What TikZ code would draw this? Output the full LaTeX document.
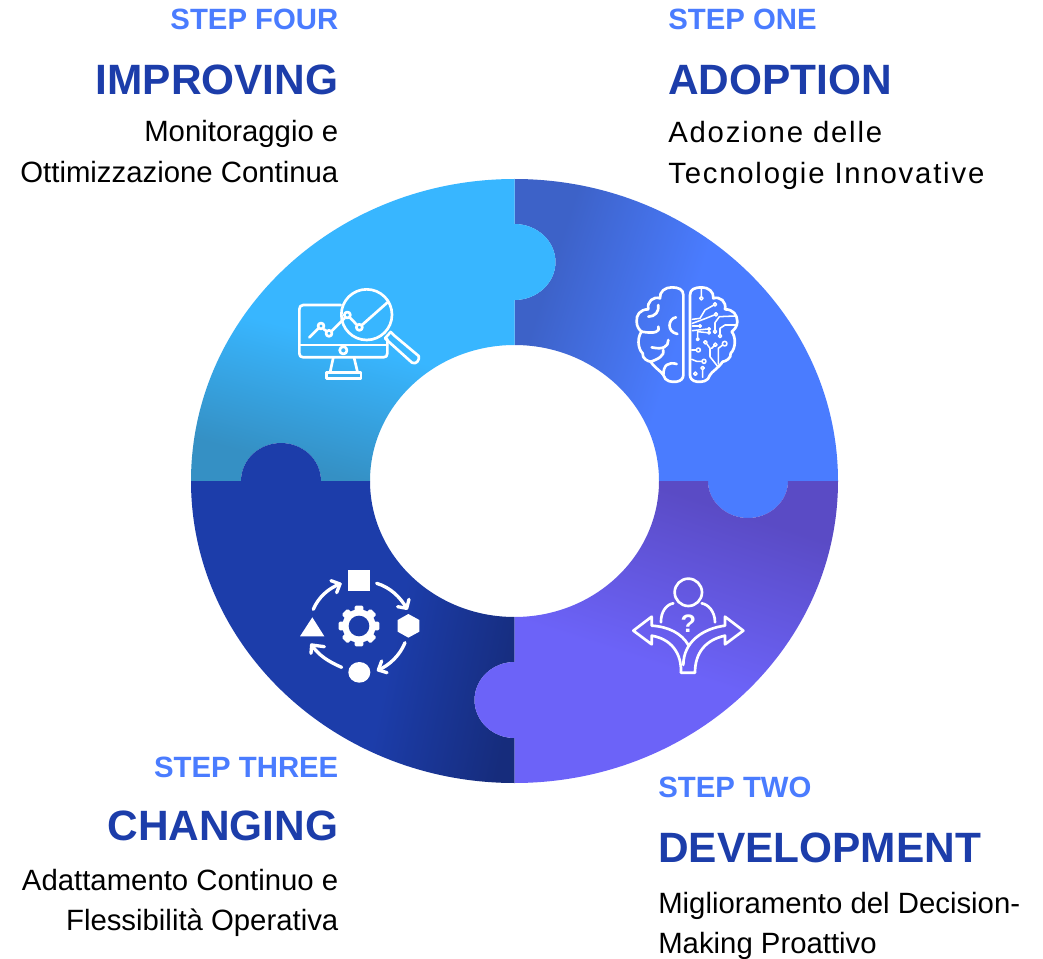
\documentclass[tikz,border=0pt]{standalone}
\usepackage{fontspec}
\setmainfont{Liberation Sans}
\newfontfamily\spaced[LetterSpace=6.1]{Liberation Sans}
\usetikzlibrary{arrows.meta}
\definecolor{stepc}{HTML}{4A7CFF}
\definecolor{titlec}{HTML}{1C3DAA}
\definecolor{trA}{HTML}{3D62C8}
\definecolor{trB}{HTML}{4A7CFF}
\definecolor{tlA}{HTML}{3590C4}
\definecolor{tlB}{HTML}{38B6FF}
\definecolor{blA}{HTML}{1C3DAA}
\definecolor{blB}{HTML}{162C7C}
\definecolor{brA}{HTML}{5A4BC5}
\definecolor{brB}{HTML}{6C63F8}
\pgfdeclarehorizontalshading{trgrad}{100bp}{color(0bp)=(trA);color(28bp)=(trA);color(50bp)=(trB);color(100bp)=(trB)}
\pgfdeclareverticalshading{tlgrad}{100bp}{color(0bp)=(tlA);color(26bp)=(tlA);color(47bp)=(tlB);color(100bp)=(tlB)}
\pgfdeclarehorizontalshading{blgrad}{100bp}{color(0bp)=(blA);color(57bp)=(blA);color(77bp)=(blB);color(100bp)=(blB)}
\pgfdeclareverticalshading{brgrad}{100bp}{color(0bp)=(brB);color(45bp)=(brB);color(72bp)=(brA);color(100bp)=(brA)}
\tikzset{
  stepl/.style={font=\fontsize{22}{22}\selectfont\bfseries,text=stepc,inner sep=0pt},
  titlel/.style={font=\fontsize{31.8}{32}\selectfont\bfseries,text=titlec,inner sep=0pt},
  bodyl/.style={font=\fontsize{22}{22}\selectfont,text=black,inner sep=0pt},
  bodys/.style={font=\fontsize{22}{22}\spaced,text=black,inner sep=0pt},
  ico/.style={draw=white,line width=2pt,line cap=round,line join=round},
  icothin/.style={draw=white,line width=1.15pt,line cap=round,line join=round},
  icobold/.style={draw=white,line width=2.5pt,line cap=round,line join=round},
  solidico/.style={fill=white,draw=none},
}
\begin{document}
\begin{tikzpicture}[x=.75pt,y=.75pt]
\useasboundingbox (0,0) rectangle (1043,-959);
\fill[white] (0,0) rectangle (1043,-959);
% ring
\shade[shading=trgrad,shading angle=-18] (514.5,-179) arc[start angle=90,end angle=0,x radius=323.5,y radius=302]
 -- (788,-481) arc[start angle=0,end angle=-180,x radius=40,y radius=37]
 -- (659,-481) arc[start angle=0,end angle=90,x radius=144.5,y radius=136]
 -- (514.5,-300) arc[start angle=-90,end angle=90,x radius=41,y radius=38] -- cycle;
\shade[shading=tlgrad,shading angle=-15] (514.5,-179) -- (514.5,-224) arc[start angle=90,end angle=-90,x radius=41,y radius=38]
 -- (514.5,-345) arc[start angle=90,end angle=180,x radius=144.5,y radius=136]
 -- (321,-481) arc[start angle=0,end angle=180,x radius=40,y radius=38]
 -- (191,-481) arc[start angle=180,end angle=90,x radius=323.5,y radius=302] -- cycle;
\shade[shading=blgrad,shading angle=-12] (191,-481) -- (241,-481) arc[start angle=180,end angle=0,x radius=40,y radius=38]
 -- (370,-481) arc[start angle=180,end angle=270,x radius=144.5,y radius=136]
 -- (514.5,-662) arc[start angle=90,end angle=270,x radius=40,y radius=38]
 -- (514.5,-783) arc[start angle=270,end angle=180,x radius=323.5,y radius=302] -- cycle;
\shade[shading=brgrad,shading angle=-18] (514.5,-783) -- (514.5,-738) arc[start angle=270,end angle=90,x radius=40,y radius=38]
 -- (514.5,-617) arc[start angle=270,end angle=360,x radius=144.5,y radius=136]
 -- (708,-481) arc[start angle=180,end angle=360,x radius=40,y radius=37]
 -- (838,-481) arc[start angle=0,end angle=-90,x radius=323.5,y radius=302] -- cycle;
% texts
\node[stepl,anchor=base east] (s4) at (338.6,-30) {STEP FOUR};
\node[titlel,anchor=base east] (t4) at (338.6,-95) {IMPROVING};
\node[bodyl,anchor=base east] (b4a) at (338.6,-142) {Monitoraggio e};
\node[bodyl,anchor=base east] (b4b) at (338.6,-183) {Ottimizzazione Continua};
\node[stepl,anchor=base west] (s1) at (668,-30) {STEP ONE};
\node[titlel,anchor=base west] (t1) at (668,-95) {ADOPTION};
\node[bodys,anchor=base west] (b1a) at (668,-143) {Adozione delle};
\node[bodys,anchor=base west] (b1b) at (668,-184) {Tecnologie Innovative};
\node[stepl,anchor=base east] (s3) at (338.6,-777) {STEP THREE};
\node[titlel,anchor=base east] (t3) at (338.6,-840) {CHANGING};
\node[bodyl,anchor=base east] (b3a) at (338.6,-890) {Adattamento Continuo e};
\node[bodyl,anchor=base east] (b3b) at (338.6,-930) {Flessibilità Operativa};
\node[stepl,anchor=base west] (s2) at (658,-797) {STEP TWO};
\node[titlel,anchor=base west] (t2) at (658,-862) {DEVELOPMENT};
\node[bodyl,anchor=base west] (b2a) at (658,-913) {Miglioramento del Decision-};
\node[bodyl,anchor=base west] (b2b) at (658,-953) {Making Proattivo};
% brain icon (zoom-crop units)
\begin{scope}[shift={(450pt,-195pt)},x=.25pt,y=-.25pt]
\draw[ico] (250,345) -- (250,105) .. controls (250,88) and (235,82) .. (215,82) .. controls (195,82) and (178,95) .. (180,115)
 .. controls (160,108) and (140,125) .. (145,148) .. controls (120,148) and (108,165) .. (110,185) .. controls (110,200) and (118,210) .. (125,215)
 .. controls (112,230) and (112,265) .. (128,280) .. controls (125,295) and (145,305) .. (152,305) .. controls (165,325) and (185,335) .. (190,345)
 .. controls (195,365) and (215,367) .. (230,365) .. controls (243,363) and (250,355) .. (250,345);
\draw[ico] (175,135) .. controls (178,155) and (165,170) .. (145,170);
\draw[ico] (175,200) .. controls (182,215) and (165,222) .. (125,215);
\draw[ico] (228,172) .. controls (205,175) and (198,215) .. (232,222);
\draw[ico] (205,240) .. controls (205,260) and (190,270) .. (155,262);
\draw[ico] (190,270) .. controls (195,285) and (175,298) .. (152,305);
\draw[ico] (230,312) .. controls (205,305) and (190,315) .. (190,345);
\draw[ico] (270,345) -- (270,105) .. controls (270,88) and (285,82) .. (305,82) .. controls (325,82) and (342,95) .. (340,115)
 .. controls (360,108) and (380,125) .. (375,148) .. controls (400,148) and (412,165) .. (412,185) .. controls (412,200) and (402,210) .. (395,215)
 .. controls (408,230) and (408,265) .. (392,280) .. controls (395,295) and (375,305) .. (368,305) .. controls (355,325) and (335,335) .. (330,345)
 .. controls (325,365) and (305,367) .. (290,365) .. controls (277,363) and (270,355) .. (270,345);
\draw[icothin] (304,85) -- (304,110) (304,115) circle[radius=5];
\draw[icothin] (345,133) circle[radius=5] (340,136) -- (315,150) -- (300,175) -- (277,178);
\draw[icothin] (348,163) circle[radius=5] (343,165) -- (310,178) -- (277,190);
\draw[icothin] (300,198) circle[radius=4] (296,198) -- (277,198);
\draw[icothin] (345,215) circle[radius=5] (345,210) -- (345,188) -- (358,170) -- (405,168);
\draw[icothin] (360,228) circle[radius=5] (360,223) -- (360,205) -- (375,195) -- (410,195);
\draw[icothin] (327,207) circle[radius=4] (323,207) -- (277,212);
\draw[icothin] (327,218) circle[radius=4] (323,218) -- (293,215);
\draw[icothin] (293,238) circle[radius=4] (293,234) -- (293,215);
\draw[icothin] (316,247) circle[radius=5] (320,251) -- (330,265) -- (330,290) -- (352,318);
\draw[icothin] (346,254) circle[radius=5] (342,258) -- (335,265);
\draw[icothin] (374,251) circle[radius=7] (368,255) -- (355,265) -- (355,312);
\draw[icothin] (295,270) circle[radius=6] (289,270) -- (275,270);
\draw[icothin] (312,304) circle[radius=6] (306,304) -- (290,304) -- (275,298);
\draw[icothin] (308,324) circle[radius=5] (308,329) -- (308,352);
\draw[icothin] (286,341) circle[radius=5];
\end{scope}
% monitor icon
\begin{scope}[shift={(210pt,-202.5pt)},x=.25pt,y=-.25pt]
\draw[ico] (182,105) -- (70,105) .. controls (62,105) and (58,110) .. (58,118) -- (58,250) .. controls (58,258) and (62,262) .. (70,262) -- (310,262) .. controls (318,262) and (322,258) .. (322,250) -- (322,207);
\draw[ico] (58,225) -- (322,225);
\draw[ico] (190,241) circle[radius=11];
\draw[ico] (160,262) -- (150,308) (222,262) -- (233,308);
\draw[ico] (140,308) rectangle (243,325);
\draw[ico] (260,134) circle[radius=76];
\draw[ico] (88,202) -- (114,176) (132,178) -- (139,183) (155,183) -- (194,144) (210,143) -- (231,165) (246,165) -- (325,95);
\draw[ico] (123,168) circle[radius=9] (147,190) circle[radius=9] (202,135) circle[radius=9] (238,172) circle[radius=9];
\draw[ico] (315,205) -- (332,186) -- (342,196) -- (416,258) .. controls (420,270) and (408,285) .. (396,278) -- (315,205);
\end{scope}
% change icon
\begin{scope}[shift={(213.75pt,-420pt)},x=.25pt,y=-.25pt]
\fill[solidico] (190,30) rectangle (256,92);
\fill[solidico] (370,162) -- (403,180) -- (403,215) -- (370,233) -- (338,215) -- (338,180) -- cycle;
\fill[solidico] (223,337) ellipse[x radius=33,y radius=31];
\fill[solidico] (45,229) -- (118,229) -- (82,172) -- cycle;
\draw[icobold] (85,148) .. controls (100,112) and (130,85) .. (165,72);
\draw[icobold] (138,62) -- (165,72) -- (155,98);
\draw[icobold] (275,70) .. controls (315,82) and (345,110) .. (365,145);
\draw[icobold] (338,140) -- (365,145) -- (372,118);
\draw[icobold] (360,248) .. controls (345,285) and (315,315) .. (280,330);
\draw[icobold] (306,338) -- (280,330) -- (290,303);
\draw[icobold] (170,322) .. controls (130,305) and (100,285) .. (80,255);
\draw[icobold] (118,260) -- (80,255) -- (78,280);
\foreach \a in {0,45,...,315} {
  \fill[white,rounded corners=1pt,rotate around={\a:(222,198)}] (209,137) rectangle (235,170);
}
\fill[white] (222,198) circle[radius=50];
\fill[blA] (222,198) circle[radius=31];
\end{scope}
% decision icon
\begin{scope}[shift={(465pt,-423.75pt)},x=.25pt,y=-.25pt]
\draw[ico] (205,82) circle[radius=41];
\draw[ico] (123,172) .. controls (122,140) and (140,118) .. (160,115);
\draw[ico] (245,115) .. controls (265,118) and (285,140) .. (285,172);
\draw[ico] (183,323) .. controls (185,285) and (170,225) .. (95,212) -- (95,238) -- (40,197) -- (95,155) -- (95,182) .. controls (145,185) and (185,205) .. (205,240);
\draw[ico] (190,300) .. controls (190,230) and (250,190) .. (315,182) -- (315,155) -- (370,197) -- (315,238) -- (315,212) .. controls (255,225) and (225,265) .. (225,323) -- (183,323);
\node[inner sep=0pt,text=white,font=\fontsize{19}{19}\selectfont\bfseries] (qm) at (205,176) {?};
\end{scope}
\end{tikzpicture}
\end{document}
